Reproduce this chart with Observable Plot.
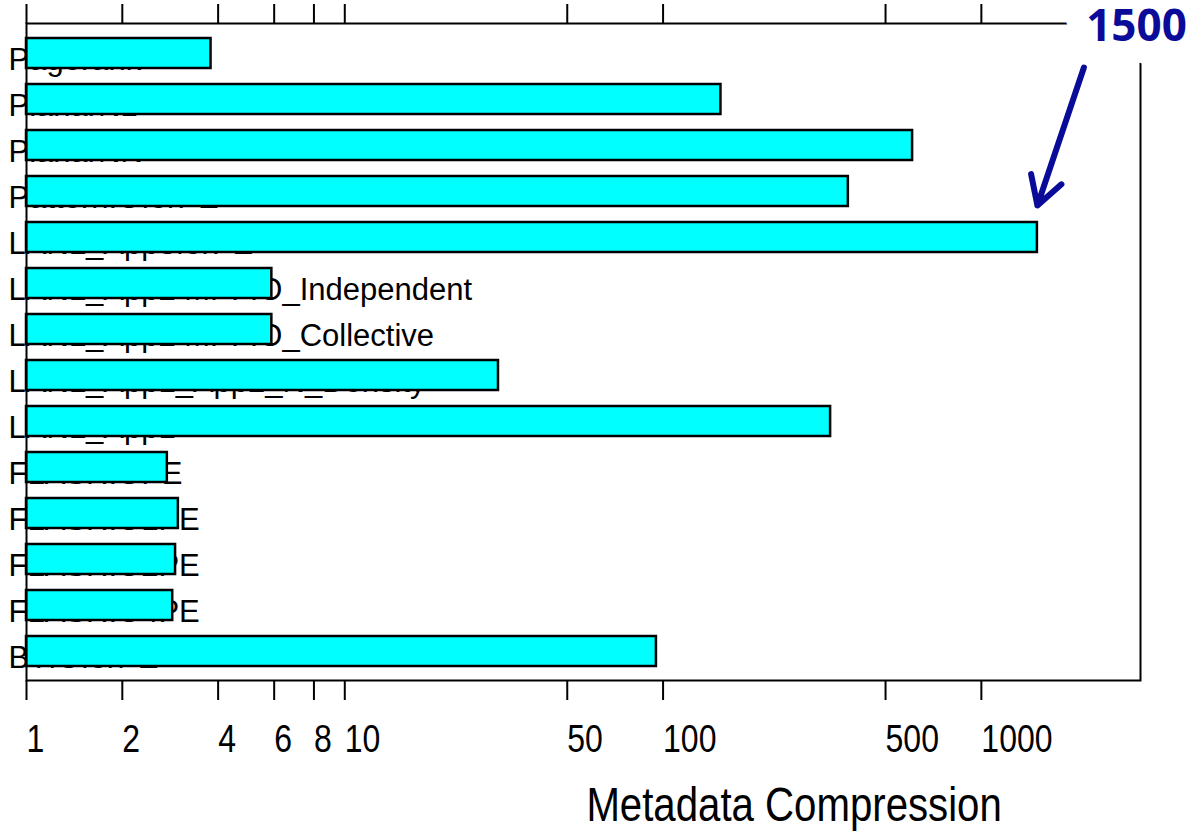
<!DOCTYPE html>
<html>
<head>
<meta charset="utf-8">
<script src="https://cdn.jsdelivr.net/npm/d3@7"></script>
<script src="https://cdn.jsdelivr.net/npm/@observablehq/plot@0.6"></script>
<style>
  html, body { margin: 0; padding: 0; background: #fff; }
  #chart svg { display: block; }
</style>
</head>
<body>
<div id="chart"></div>
<script>
const workloads = [
  "Pagerank",
  "PlanarN1",
  "PlanarNN",
  "PatternIOforPE",
  "LANL_App3forPE",
  "LANL_App2 MPI-IO_Independent",
  "LANL_App2 MPI-IO_Collective",
  "LANL_App1_App2_N_Density",
  "LANL_App1",
  "FLASHIOPE",
  "FLASHIO1PE",
  "FLASHIO2PE",
  "FLASHIO4PE",
  "BTIOforPE"
];
const compression = [3.8, 152, 608, 382, 1500, 5.9, 5.9, 30.4, 336, 2.77, 3.0, 2.94, 2.88, 95.3];
const tickValues = [1, 2, 4, 6, 8, 10, 50, 100, 500, 1000];
const axisTitle = "Metadata Compression";
const calloutText = "1500";

const data = workloads.map((name, i) => ({name, value: compression[i]}));
const peak = data[4];

const sans = "'Liberation Sans', Arial, sans-serif";
const navy = "#0b0b99";

const chart = Plot.plot({
  width: 1191,
  height: 832,
  marginTop: 23,
  marginBottom: 152,
  marginLeft: 26,
  marginRight: 51,
  style: {fontFamily: sans, background: "white", color: "black"},
  x: {type: "log", domain: [1, Math.pow(10, 3.5)], axis: null},
  y: {domain: workloads, paddingInner: 0.35, paddingOuter: 0.31, axis: null},
  marks: [
    Plot.text(data, {
      y: "name", text: "name", frameAnchor: "left", textAnchor: "start",
      dx: -18, dy: 7, fontSize: 31, fill: "black"
    }),
    Plot.barX(data, {x1: 1, x2: "value", y: "name", fill: "#00ffff", stroke: "black", strokeWidth: 2.5}),
    Plot.frame({stroke: "black", strokeWidth: 2}),
    Plot.axisX({
      anchor: "top", ticks: tickValues, tickSize: 20, tickFormat: () => "",
      strokeWidth: 2, label: null
    }),
    Plot.axisX({
      anchor: "bottom", ticks: tickValues, tickSize: 20, tickFormat: () => "",
      strokeWidth: 2, label: null
    }),
    Plot.text(tickValues, {
      x: d => d, text: d => String(d), frameAnchor: "bottom",
      textAnchor: "start", lineAnchor: "top", dy: 44,
      fontSize: 39, fill: "black", className: "narrowtxt"
    }),
    Plot.text([axisTitle], {
      x: 258, frameAnchor: "bottom", dy: 140, text: d => d,
      fontSize: 49, fill: "black", className: "narrowtxt"
    }),
    Plot.text([calloutText], {
      frameAnchor: "top-right", textAnchor: "middle", lineAnchor: "middle",
      text: d => d, dx: -4, dy: 3,
      fontSize: 44, fontWeight: 700, fontFamily: "'Open Sans', 'Liberation Sans', sans-serif",
      fill: navy, stroke: "white", strokeWidth: 46, paintOrder: "stroke", strokeLinejoin: "round"
    }),
    Plot.arrow([peak], {
      x1: () => 2100, y1: () => workloads[0],
      x2: "value", y2: () => workloads[3],
      dy: 14, stroke: navy, strokeWidth: 6, headLength: 8, headAngle: 60
    })
  ]
});

document.getElementById("chart").appendChild(chart);

// Condense the axis texts horizontally (the original uses a narrow face)
chart.querySelectorAll("g.narrowtxt text").forEach(t => {
  const len = t.getComputedTextLength();
  t.setAttribute("textLength", (len * 0.82).toFixed(1));
  t.setAttribute("lengthAdjust", "spacingAndGlyphs");
});
</script>
</body>
</html>
